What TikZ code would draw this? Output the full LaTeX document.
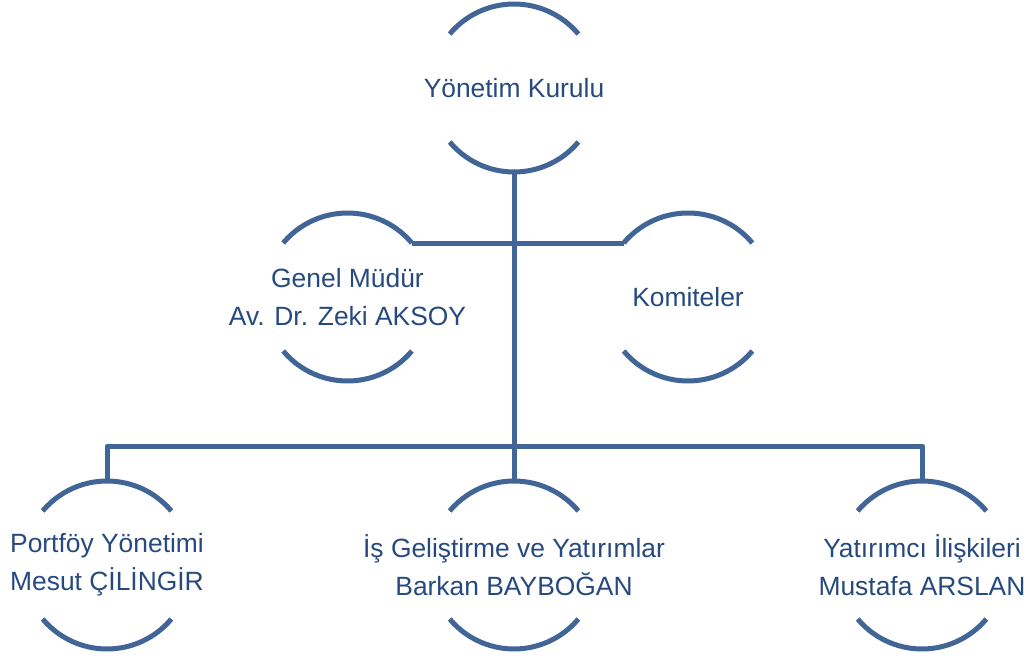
\documentclass[tikz,border=0pt]{standalone}
\usepackage{fontspec}
\setmainfont{Liberation Sans}
\definecolor{lineblue}{RGB}{64,101,150}
\definecolor{textblue}{RGB}{38,74,126}
\begin{document}
\begin{tikzpicture}[x=1pt,y=-1pt,
  orb/.style={circle, minimum size=168pt, inner sep=0pt, outer sep=0pt},
  lbl/.style={font=\fontsize{26.4}{38}\selectfont, text=textblue, align=center},
  wire/.style={draw=lineblue, line width=5pt, line join=round},
  rim/.style={draw=lineblue, line width=5pt}]
\useasboundingbox (0,0) rectangle (1030,660);
\node[orb, label={[lbl]center:Yönetim Kurulu}] (yk) at (514,88) {};
\node[orb, label={[lbl]center:{Genel Müdür\\Av. Dr. Zeki AKSOY}}] (gm) at (347.5,297) {};
\node[orb, label={[lbl]center:Komiteler}] (km) at (688,297) {};
\node[orb, label={[lbl]center:{Portföy Yönetimi\\Mesut ÇİLİNGİR}}] (pf) at (107,565) {};
\node[orb, label={[lbl]center:{İş Geliştirme ve Yatırımlar\\Barkan BAYBOĞAN}}] (ig) at (514,565) {};
\node[orb, label={[lbl]center:{Yatırımcı İlişkileri\\Mustafa ARSLAN}}] (yi) at (922,565) {};
\foreach \n in {yk,gm,km,pf,ig,yi} {
  \draw[rim] (\n.140) arc[start angle=140, end angle=40, radius=84pt];
  \draw[rim] (\n.220) arc[start angle=220, end angle=320, radius=84pt];
}
\coordinate (bus) at (514,446);
\draw[wire] (yk.south) -- (ig.north);
\draw[wire] (gm.40) -- (km.140);
\draw[wire] (pf.north) |- (bus) -| (yi.north);
\end{tikzpicture}
\end{document}
